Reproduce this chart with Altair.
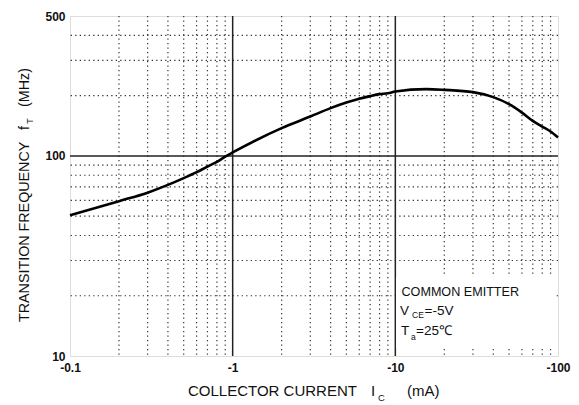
import altair as alt
import pandas as pd

# Curve: collector current (mA, magnitude) vs transition frequency (MHz)
ic_ma = [0.1, 0.2, 0.3, 0.4, 0.5, 0.6, 0.7, 0.8, 0.9, 1, 2, 3, 4, 5, 6, 7, 8, 9, 10,
         15.5, 20, 30, 40, 50, 60, 70, 80, 90, 100]
ft_mhz = [50.5, 59.4, 65.5, 71.6, 77.4, 82.9, 88.4, 93.3, 99.2, 104, 137.6, 157.2, 173.2,
          184.7, 192.8, 198.9, 203.5, 205.6, 209.7, 215.6, 213.8, 208.2, 196.6, 181.3,
          164.6, 149.6, 140.1, 132.3, 123.4]

x_ticks = [0.1, 1, 10, 100]
y_ticks = [10, 100, 500]
x_minor = [0.2, 0.3, 0.4, 0.5, 0.6, 0.7, 0.8, 0.9, 2, 3, 4, 5, 6, 7, 8, 9,
           20, 30, 40, 50, 60, 70, 80, 90]
x_major = [1, 10]
y_minor = [20, 30, 40, 50, 60, 70, 80, 90, 200, 300, 400]
y_major = [100]

FONT = "Liberation Sans"
xscale = alt.Scale(type="log", domain=[0.1, 100], nice=False)
yscale = alt.Scale(type="log", domain=[10, 500], nice=False)

xaxis = alt.Axis(values=x_ticks, labelExpr="'-' + format(datum.value, '~g')",
                 title=None, grid=False, ticks=False, domain=False,
                 labelFont=FONT, labelFontSize=12, labelFontWeight="bold",
                 labelColor="#111", labelPadding=6, labelFlush=False)
yaxis = alt.Axis(values=y_ticks, format="~g", title=None, grid=False,
                 ticks=False, domain=False, labelFont=FONT, labelFontSize=12,
                 labelFontWeight="bold", labelColor="#111", labelPadding=5,
                 labelFlush=False)

df = pd.DataFrame({"ic": ic_ma, "ft": ft_mhz})

vminor = alt.Chart(pd.DataFrame({"v": x_minor})).mark_rule(
    color="#333", strokeWidth=1.2, strokeDash=[1.3, 3.2]
).encode(x=alt.X("v:Q", scale=xscale, axis=xaxis))
hminor = alt.Chart(pd.DataFrame({"v": y_minor})).mark_rule(
    color="#333", strokeWidth=1.2, strokeDash=[1.3, 3.2]
).encode(y=alt.Y("v:Q", scale=yscale, axis=yaxis))
vmajor = alt.Chart(pd.DataFrame({"v": x_major})).mark_rule(
    color="#222", strokeWidth=1.5
).encode(x=alt.X("v:Q", scale=xscale, axis=xaxis))
hmajor = alt.Chart(pd.DataFrame({"v": y_major})).mark_rule(
    color="#222", strokeWidth=1.5
).encode(y=alt.Y("v:Q", scale=yscale, axis=yaxis))

one = pd.DataFrame({"a": [0]})
box = alt.Chart(one).mark_rect(color="white").encode(
    x=alt.value(326), x2=alt.value(484), y=alt.value(261), y2=alt.value(332)
)

curve = alt.Chart(df).mark_line(color="black", strokeWidth=2.6, interpolate="monotone").encode(
    x=alt.X("ic:Q", scale=xscale, axis=xaxis),
    y=alt.Y("ft:Q", scale=yscale, axis=yaxis),
)


def txt(s, x, y, size=13, align="left", angle=0, baseline="middle"):
    kw = dict(text=s, font=FONT, fontSize=size, align=align, baseline=baseline, color="#111")
    if angle:
        kw["angle"] = angle
    return alt.Chart(one).mark_text(**kw).encode(x=alt.value(x), y=alt.value(y))


texts = [
    # annotation
    txt("COMMON EMITTER", 331.5, 276, size=12.6),
    txt("V", 330, 295, size=13.5),
    txt("CE", 342, 299, size=8.5),
    txt("=-5V", 354.5, 295, size=13.5),
    txt("T", 331, 315, size=13.5),
    txt("a", 341, 321, size=8.5),
    txt("=25\u2103", 346, 315, size=13.5),
    # x title
    txt("COLLECTOR CURRENT", 118, 375, size=15),
    txt("I", 303, 375, size=15, align="center"),
    txt("C", 311.5, 382, size=9.5, align="center"),
    txt("(mA)", 337, 375, size=15),
    # y title
    txt("TRANSITION FREQUENCY", -45, 306, size=14.3, angle=270),
    txt("f", -45, 112, size=14.3, align="center", angle=270),
    txt("T", -40, 105, size=9.5, align="center", angle=270),
    txt("(MHz)", -45, 91, size=14.3, angle=270),
]

chart = alt.layer(vminor, hminor, vmajor, hmajor, box, curve, *texts).properties(
    width=488, height=340,
    autosize=alt.AutoSizeParams(type="none"),
    padding={"left": 62, "top": 8, "right": 13, "bottom": 48},
).configure_view(stroke="#333", strokeWidth=2).configure(background="white")

chart.save("out.html", embed_options={"renderer": "svg", "actions": False})
